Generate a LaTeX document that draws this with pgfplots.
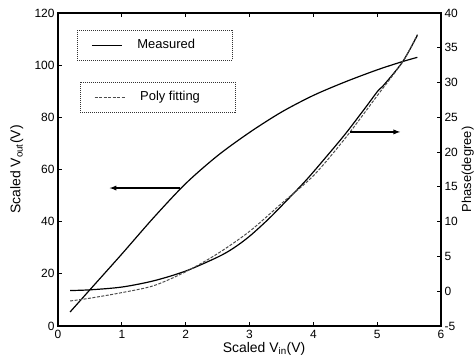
\documentclass[border=0pt]{standalone}
\usepackage{pgfplots}
\pgfplotsset{compat=1.18}
\usepackage{fontspec}
\setmainfont{Liberation Sans}
\newcommand{\tickfont}{\fontsize{12}{14}\selectfont}
\newcommand{\labfont}{\fontsize{14}{16}\selectfont}
\newcommand{\rlabfont}{\fontsize{13}{15}\selectfont}
\newcommand{\legfont}{\fontsize{13}{15}\selectfont}
\begin{document}
\begin{tikzpicture}
\pgfplotsset{
  common/.style={
    scale only axis, width=383bp, height=313bp,
    xmin=0, xmax=6,
    tick align=inside, major tick length=4bp,
    /pgf/number format/assume math mode=true,
    tick label style={font=\tickfont},
    axis line style={line width=1.1pt},
    every tick/.style={black, line width=0.8pt},
    legend image code/.code={\draw[##1] (0bp,0bp) -- (30bp,0bp);},
  }
}
\begin{axis}[common, name=main,
  ymin=0, ymax=120, ytick={0,20,...,120},
  xtick={0,1,...,6}, xtick pos=both, ytick pos=left,
  xticklabel style={yshift=-1bp},
  xlabel={Scaled V\textsubscript{in}(V)},
  xlabel style={font=\labfont, at={(axis description cs:0.538,-0.052)}, anchor=north, rotate=0, inner sep=0pt},
  ylabel={Scaled V\textsubscript{out}(V)},
  ylabel style={font=\labfont, at={(axis description cs:-0.125,0.5)}, anchor=north, rotate=0, inner sep=0pt},
  legend style={at={(axis description cs:0.0496,0.9457)}, anchor=north west,
    draw=black!80, dash pattern=on 1bp off 1bp, fill=white,
    inner xsep=14bp, inner ysep=8.5bp, font=\legfont,
    nodes={inner sep=0pt, text height=10bp, text depth=3bp}, column sep=15bp},
]
\addplot[black, solid, line width=1.2pt, smooth] coordinates {
(0.19,5.4) (0.5,13.9) (1.0,27.6) (1.5,41.6) (2.0,54.6) (2.5,65.3) (3.0,74.2)
(3.5,82.0) (4.0,88.4) (4.5,93.6) (5.0,98.2) (5.4,101.4) (5.63,103.0)};
\addlegendentry{\makebox[81bp][l]{Measured}}
\draw[-latex, line width=1.3pt] (axis cs:1.91,52.9) -- (axis cs:0.81,52.9);
\end{axis}
\begin{axis}[common,
  ymin=-5, ymax=40, ytick={-5,0,...,40},
  axis x line=none, axis y line*=right, ytick pos=right,
  ylabel={Phase(degree)},
  ylabel style={font=\rlabfont, at={(axis description cs:1.086,0.5)}, anchor=south, rotate=0, inner sep=0pt},
  legend style={at={(axis description cs:0.0574,0.7796)}, anchor=north west,
    draw=black!80, dash pattern=on 1bp off 1bp, fill=white,
    inner xsep=14bp, inner ysep=8.5bp, font=\legfont,
    nodes={inner sep=0pt, text height=10bp, text depth=3bp}, column sep=15bp},
]
\addplot[black, solid, line width=1.2pt, smooth, forget plot] coordinates {
(0.19,0.1) (0.5,0.2) (1.0,0.6) (1.5,1.5) (2.0,2.9) (2.5,4.9) (2.75,6.2) (3.0,7.9)
(3.3,10.4) (3.6,13.2) (3.9,16.1) (4.2,19.3) (4.5,22.6) (4.8,26.2) (5.02,28.9)
(5.1,29.6) (5.4,33.0) (5.63,36.8)};
\addplot[black!70, dash pattern=on 3bp off 1.5bp, line width=1.0pt, smooth] coordinates {
(0.19,-1.4) (0.5,-1.0) (1.0,-0.2) (1.5,0.8) (2.0,2.8) (2.5,5.4) (3.0,8.6)
(3.5,12.6) (4.0,16.6) (4.5,22.0) (5.0,28.1) (5.4,33.0) (5.63,36.9)};
\addlegendentry{\makebox[81bp][l]{Poly fitting}}
\draw[-latex, line width=1.3pt] (axis cs:4.58,22.9) -- (axis cs:5.36,22.9);
\end{axis}
\pgfresetboundingbox
\path ([shift={(-58bp,-34bp)}]main.south west) rectangle ([shift={(35bp,13bp)}]main.north east);
\end{tikzpicture}
\end{document}
